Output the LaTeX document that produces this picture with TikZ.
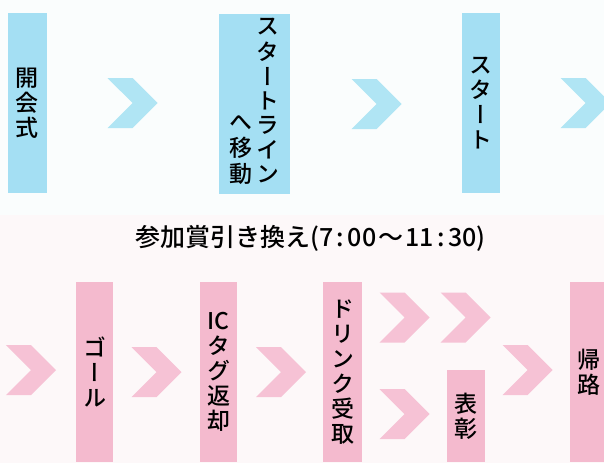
\documentclass[tikz,border=0pt]{standalone}
\usepackage{fontspec}
\setmainfont{Noto Sans CJK JP Medium}
\newfontfamily\tatefont[RawFeature=+vert]{Noto Sans CJK JP Medium}
\usetikzlibrary{positioning,shapes.symbols}

\definecolor{barblue}{RGB}{164,223,243}
\definecolor{chevblue}{RGB}{176,229,244}
\definecolor{barpink}{RGB}{244,186,206}
\definecolor{chevpink}{RGB}{246,194,213}
\definecolor{bgtop}{RGB}{250,253,253}
\definecolor{bgbottom}{RGB}{253,248,249}

% one column of upright characters
\newcommand{\tatecol}[1]{\begin{tabular}[b]{@{}c@{}}#1\end{tabular}}
% colon with some air round it
\newcommand{\tcolon}{\kern3.5pt:\kern3.5pt}

\begin{document}
\begin{tikzpicture}[x=1pt, y=-1pt,
    bar_style/.style = {rectangle, inner sep=0pt, minimum height=180pt, align=center,
        font=\tatefont\fontsize{23}{25}\selectfont},
    blue_bar/.style = {bar_style, fill=barblue},
    pink_bar/.style = {bar_style, fill=barpink},
    chevron_style/.style = {signal, signal to=east, signal from=west,
        signal pointer angle=90, minimum width=45pt, minimum height=50pt,
        inner sep=0pt, draw=none}]

% background
\fill[bgtop] (0,0) rectangle (604,215);
\fill[bgbottom] (0,215) rectangle (604,463);
\useasboundingbox (0,0) rectangle (604,463);

% top row
\node[blue_bar, minimum width=39pt] (1) at (27.5,103) {開\\会\\式};

\node[blue_bar, minimum width=71pt, font=\tatefont\fontsize{23}{23}\selectfont]
    (2) at (254.5,104) {%
    \tatecol{へ\\移\\動}\hspace{4pt}\tatecol{ス\\タ\\ー\\ト\\ラ\\イ\\ン}};

\node[blue_bar, minimum width=38pt] (3) at (481,103) {ス\\タ\\ー\\ト};

\node[chevron_style, fill=chevblue, right of=1, node distance=105pt] (1a) {};
\node[chevron_style, fill=chevblue, right of=2, node distance=122pt] (2a) {};
\node[chevron_style, fill=chevblue, right of=3, node distance=104.5pt] (3a) {};

% middle line
\node[font=\fontsize{25}{27}\selectfont] (title) at (310.5,238)
    {参加賞引き換え(7\tcolon 00\kern2pt〜\kern2pt 11\tcolon 30)};

% bottom row
\node[chevron_style, fill=chevpink] (0b) at (31,370) {};

\node[pink_bar, minimum width=37pt] (4) at (94.5,372) {ゴ\\ー\\ル};
\node[chevron_style, fill=chevpink, right of=4, node distance=62pt] (4a) {};

\node[pink_bar, minimum width=37pt] (5) at (218.5,372) {IC\\タ\\グ\\返\\却};
\node[chevron_style, fill=chevpink, right of=5, node distance=62.5pt] (5a) {};

\node[pink_bar, minimum width=39pt] (6) at (342.5,372) {ド\\リ\\ン\\ク\\受\\取};

% drink -> two ways
\node[chevron_style, fill=chevpink] (6a) at (404.5,317.5) {};
\node[chevron_style, fill=chevpink, right of=6a, node distance=61pt] (6b) {};
\node[chevron_style, fill=chevpink] (6c) at (404.5,414) {};

\node[pink_bar, minimum width=38pt, minimum height=92pt] (7) at (466,416) {表\\彰};
\node[chevron_style, fill=chevpink] (7a) at (527.5,370) {};

\node[pink_bar, minimum width=38pt] (8) at (589,372) {帰\\路};

\end{tikzpicture}
\end{document}
